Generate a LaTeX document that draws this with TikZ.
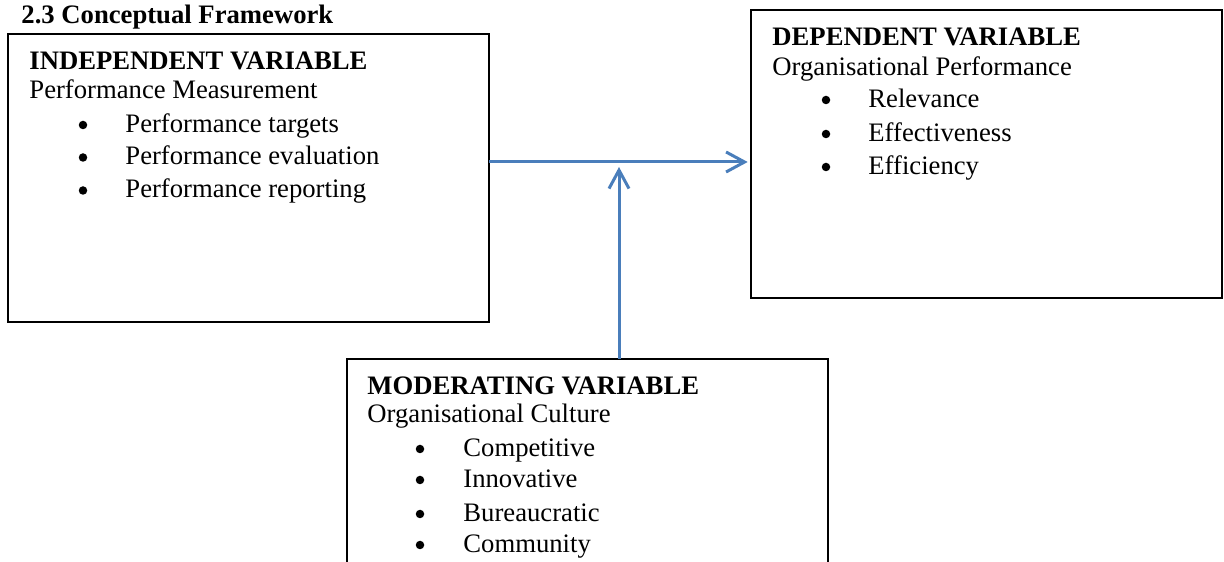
\documentclass[tikz,border=0pt]{standalone}
\usepackage{fontspec}
\setmainfont{Liberation Serif}
\usetikzlibrary{arrows.meta}

\definecolor{flowblue}{RGB}{74,126,187}

\tikzset{
  varbox/.style={draw=black, line width=0.9pt, rectangle, inner sep=0pt, outer sep=0pt},
  line/.style={anchor=base west, inner sep=0pt, font=\fontsize{12}{14}\selectfont},
  head/.style={line, font=\fontsize{12}{14}\selectfont\bfseries},
  dot/.style={circle, fill=black, inner sep=0pt, minimum size=8.5*0.45pt},
  flow/.style={draw=flowblue, line width=1.35pt, -{Straight Barb[length=8.3pt,width=9pt,line width=1.35pt]}}
}

\begin{document}
\begin{tikzpicture}[x=0.45pt, y=-0.45pt]
  \clip (0,0) rectangle (1224,562);

  % heading
  \node[head] (title) at (21,24) {2.3 Conceptual Framework};

  % the three variable boxes
  \node[varbox, minimum width=481*0.45pt, minimum height=288*0.45pt] (indep) at (248.5,178) {};
  \node[varbox, minimum width=471*0.45pt, minimum height=288*0.45pt] (dep) at (986.5,154) {};
  \node[varbox, minimum width=481*0.45pt, minimum height=261*0.45pt] (mod) at (587.5,489.5) {};

  % independent variable
  \node[head] (ih) at (29,70) {INDEPENDENT VARIABLE};
  \node[line] (is) at (29,99) {Performance Measurement};
  \node[dot] (ib1) at (83,125) {};
  \node[line] (i1) at (125,133) {Performance targets};
  \node[dot] (ib2) at (83,157.5) {};
  \node[line] (i2) at (125,165) {Performance evaluation};
  \node[dot] (ib3) at (83,190.5) {};
  \node[line] (i3) at (125,198) {Performance reporting};

  % dependent variable
  \node[head] (dh) at (772,46) {DEPENDENT VARIABLE};
  \node[line] (ds) at (772,76) {Organisational Performance};
  \node[dot] (db1) at (826,100) {};
  \node[line] (d1) at (868,108) {Relevance};
  \node[dot] (db2) at (826,134) {};
  \node[line] (d2) at (868,142) {Effectiveness};
  \node[dot] (db3) at (826,167) {};
  \node[line] (d3) at (868,175) {Efficiency};

  % moderating variable
  \node[head] (mh) at (367,395) {MODERATING VARIABLE};
  \node[line] (ms) at (367,423) {Organisational Culture};
  \node[dot] (mb1) at (420,449) {};
  \node[line] (m1) at (463,457) {Competitive};
  \node[dot] (mb2) at (420,480) {};
  \node[line] (m2) at (463,488) {Innovative};
  \node[dot] (mb3) at (420,514) {};
  \node[line] (m3) at (463,522) {Bureaucratic};
  \node[dot] (mb4) at (420,545) {};
  \node[line] (m4) at (463,553) {Community};

  % connectors
  \coordinate (join) at (619,162);
  \coordinate (meet) at (619,167);
  \draw[flow, shorten >=1.5pt] (indep.east |- join) -- (dep.west |- join);
  \draw[flow] (mod.north -| meet) -- (meet);
\end{tikzpicture}
\end{document}
